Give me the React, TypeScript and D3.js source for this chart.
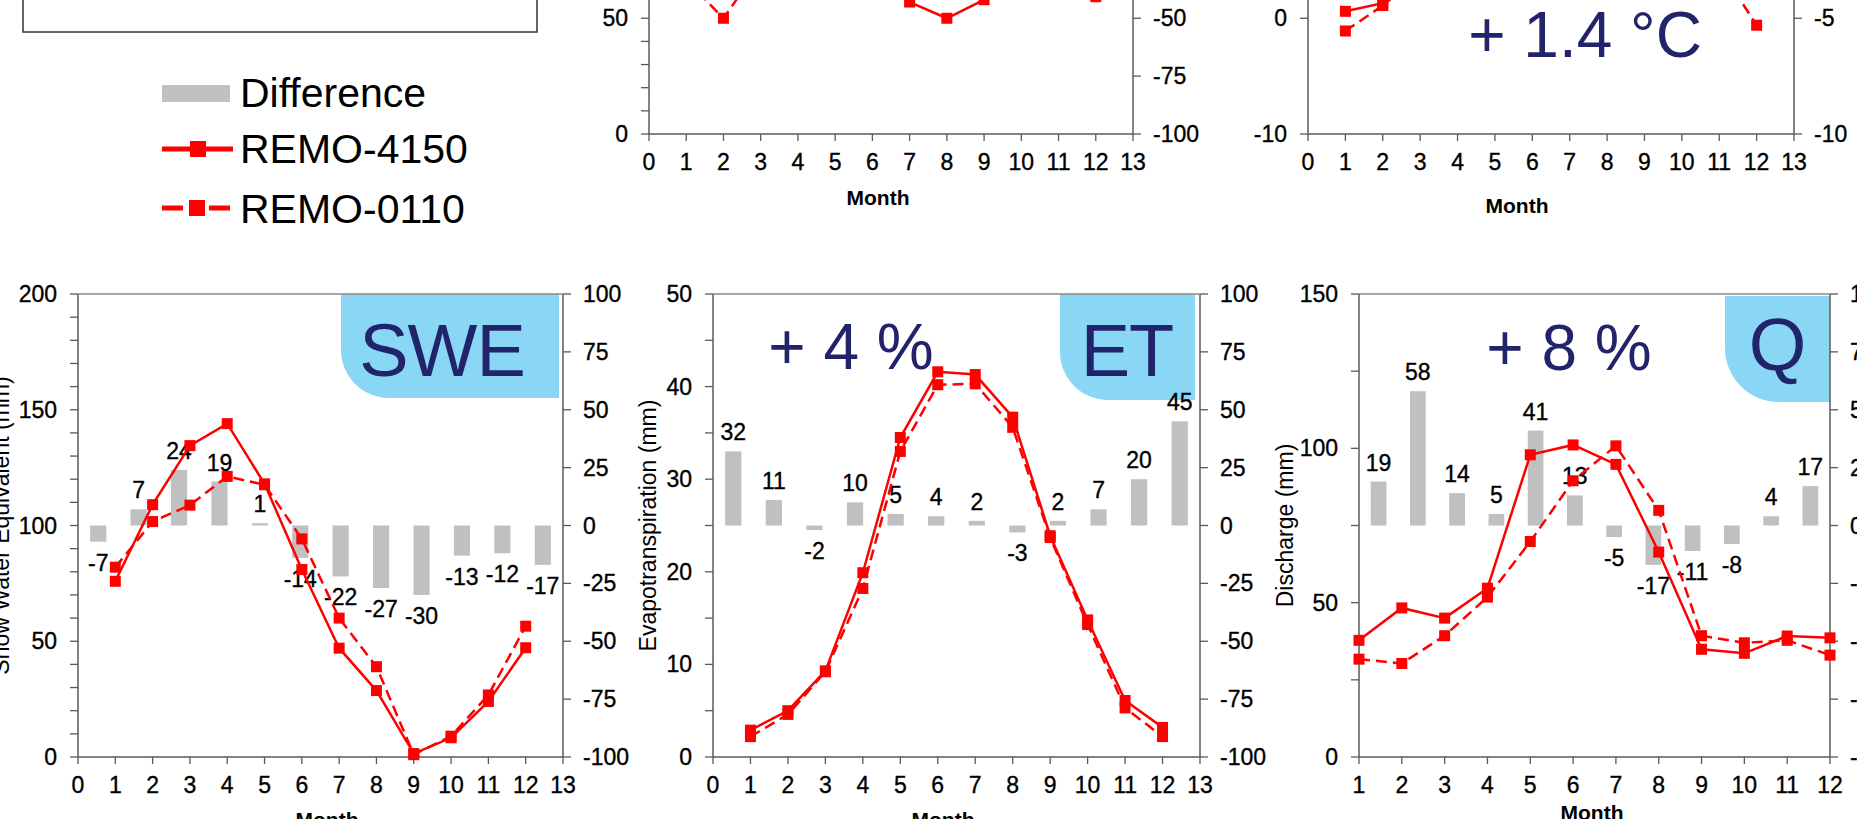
import React from "react";
import * as d3 from "d3";

const W = 1857;
const H = 819;
const FONT = "'Liberation Sans', Arial, Helvetica, sans-serif";
const RED = "#ff0000";
const NAVY = "#22246b";
const SKY = "#89d7f5";
const GREY = "#c0c0c0";
const AXIS = "#5a5a5a";

const months = [1, 2, 3, 4, 5, 6, 7, 8, 9, 10, 11, 12];
const ticks0to13 = [0, 1, 2, 3, 4, 5, 6, 7, 8, 9, 10, 11, 12, 13];
const legendLabels = ["Difference", "REMO-4150", "REMO-0110"];

// precipitation panel, only its lower edge is inside the picture
const precip4150 = [88, 80, 84, 92, 104, 96, 57, 50, 58, 90, 98, 95];
const precip0110 = [66.5, 50, 73, 88, 100, 92, 82, 78, 84, 92, 96, 59.3];

// temperature panel, also cut at the top
const temp4150 = [0.6, 1.3, 4.5, 8.5, 13, 16.5, 18.5, 18, 14, 9.5, 5.5, 2.6];
const temp0110 = [-1.1, 1.1, 3.8, 7.8, 12.2, 15.6, 17.4, 16.8, 12.8, 8.2, 4.4, -0.6];

// snow water equivalent (mm)
const swe4150 = [75.9, 109, 134.5, 144, 118, 81, 47, 28.7, 1.5, 8.3, 24, 47.2];
const swe0110 = [82, 101.7, 108.8, 121.2, 117.6, 94.2, 60, 39, 1, 9, 26.8, 56.5];
const sweDiff = [-7, 7, 24, 19, 1, -14, -22, -27, -30, -13, -12, -17];

// evapotranspiration (mm)
const et4150 = [2.9, 5.0, 9.3, 19.9, 34.5, 41.6, 41.3, 36.7, 23.9, 14.8, 6.1, 3.2];
const et0110 = [2.2, 4.6, 9.2, 18.2, 33.0, 40.2, 40.3, 35.6, 23.7, 14.3, 5.3, 2.2];
const etDiff = [32, 11, -2, 10, 5, 4, 2, -3, 2, 7, 20, 45];

// discharge (mm)
const q4150 = [37.8, 48.3, 45.0, 54.7, 97.9, 101.1, 94.8, 66.4, 34.9, 33.6, 39.2, 38.6];
const q0110 = [31.7, 30.3, 39.3, 51.8, 69.8, 89.5, 100.8, 79.9, 39.3, 37.0, 37.8, 33.0];
const qDiff = [19, 58, 14, 5, 41, 13, -5, -17, -11, -8, 4, 17];

const panels = [
  {
    key: "precip",
    left: 649, right: 1133, top: -329, bottom: 134,
    xDomain: [0, 13], xTicks: ticks0to13,
    yDomain: [0, 200], yMinor: 10, yStep: 50,
    y2Domain: [-100, 100], y2Minor: 25, y2Step: 25,
    a: precip4150, b: precip0110, diff: null,
    month: { x: 878, y: 205 },
  },
  {
    key: "temp",
    left: 1308, right: 1794, top: -329, bottom: 134,
    xDomain: [0, 13], xTicks: ticks0to13,
    yDomain: [-10, 30], yMinor: 10, yStep: 10,
    y2Domain: [-10, 10], y2Minor: 5, y2Step: 5,
    a: temp4150, b: temp0110, diff: null,
    month: { x: 1517, y: 213 },
    note: { text: "+ 1.4 °C", x: 1585, y: 57 },
  },
  {
    key: "swe",
    left: 78, right: 563, top: 294, bottom: 757,
    xDomain: [0, 13], xTicks: ticks0to13,
    yDomain: [0, 200], yMinor: 10, yStep: 50,
    y2Domain: [-100, 100], y2Minor: 25, y2Step: 25,
    a: swe4150, b: swe0110, diff: sweDiff,
    title: { text: "Snow Water Equivalent (mm)", x: 9 },
    month: { x: 327, y: 827 },
    tag: { text: "SWE", x0: 341, x1: 559, y0: 294, y1: 398, r: 48, tx: 442, ty: 376 },
  },
  {
    key: "et",
    left: 713, right: 1200, top: 294, bottom: 757,
    xDomain: [0, 13], xTicks: ticks0to13,
    yDomain: [0, 50], yMinor: 5, yStep: 10,
    y2Domain: [-100, 100], y2Minor: 25, y2Step: 25,
    a: et4150, b: et0110, diff: etDiff,
    title: { text: "Evapotranspiration (mm)", x: 656 },
    month: { x: 943, y: 827 },
    tag: { text: "ET", x0: 1060, x1: 1195, y0: 294, y1: 400, r: 48, tx: 1127, ty: 376 },
    note: { text: "+ 4 %", x: 851, y: 369 },
  },
  {
    key: "q",
    left: 1359, right: 1830, top: 294, bottom: 757,
    xDomain: [1, 12], xTicks: months,
    yDomain: [0, 150], yMinor: 25, yStep: 50,
    y2Domain: [-100, 100], y2Minor: 25, y2Step: 25,
    a: q4150, b: q0110, diff: qDiff,
    title: { text: "Discharge (mm)", x: 1293 },
    month: { x: 1592, y: 820 },
    tag: { text: "Q", x0: 1725, x1: 1830, y0: 296, y1: 402, r: 54, tx: 1777, ty: 370 },
    note: { text: "+ 8 %", x: 1569, y: 370 },
  },
];

const isStep = (v, step) => Math.abs(v / step - Math.round(v / step)) < 1e-6;
// labels that would sit wholly above the page are not drawn
const onPage = (py) => py > -8;

function Panel({ p }) {
  const x = d3.scaleLinear().domain(p.xDomain).range([p.left, p.right]);
  const y = d3.scaleLinear().domain(p.yDomain).range([p.bottom, p.top]);
  const y2 = d3.scaleLinear().domain(p.y2Domain).range([p.bottom, p.top]);
  const band = d3
    .scaleBand()
    .domain(months)
    .range([p.left, p.right])
    .paddingInner(0.6)
    .paddingOuter(0.3);
  const path = d3
    .line()
    .x((d, i) => x(months[i]))
    .y((d) => y(d));
  const yTicks = d3.range(p.yDomain[0], p.yDomain[1] + 1e-6, p.yMinor);
  const y2Ticks = d3.range(p.y2Domain[0], p.y2Domain[1] + 1e-6, p.y2Minor);
  const tag = p.tag;
  const label = { fontSize: 23, stroke: "#000", strokeWidth: 0.35 };

  return (
    <g>
      {tag && (
        <g>
          <path
            d={`M${tag.x0},${tag.y0}H${tag.x1}V${tag.y1}H${tag.x0 + tag.r}A${tag.r},${tag.r} 0 0 1 ${tag.x0},${tag.y1 - tag.r}Z`}
            fill={SKY}
          />
          <text x={tag.tx} y={tag.ty} fontSize={74} fill={NAVY} textAnchor="middle" letterSpacing={-1}>
            {tag.text}
          </text>
        </g>
      )}
      {p.diff &&
        p.diff.map((v, i) => (
          <rect
            key={`bar${i}`}
            x={band(months[i])}
            width={band.bandwidth()}
            y={Math.min(y2(v), y2(0))}
            height={Math.abs(y2(v) - y2(0))}
            fill={GREY}
          />
        ))}
      {p.diff &&
        p.diff.map((v, i) => (
          <text
            key={`bl${i}`}
            x={band(months[i]) + band.bandwidth() / 2}
            y={v >= 0 ? y2(v) - 11 : y2(v) + 29}
            textAnchor="middle"
            {...label}
          >
            {v}
          </text>
        ))}
      {/* frame */}
      <line x1={p.left} x2={p.left} y1={p.top} y2={p.bottom} stroke={AXIS} strokeWidth={1.5} />
      <line x1={p.right} x2={p.right} y1={p.top} y2={p.bottom} stroke={AXIS} strokeWidth={1.5} />
      <line x1={p.left} x2={p.right} y1={p.top} y2={p.top} stroke="#8a8a8a" strokeWidth={1.5} />
      <line x1={p.left} x2={p.right} y1={p.bottom} y2={p.bottom} stroke={AXIS} strokeWidth={1.5} />
      {yTicks.map((t) => (
        <g key={`y${t}`}>
          <line x1={p.left - 8} x2={p.left} y1={y(t)} y2={y(t)} stroke={AXIS} strokeWidth={1.3} />
          {isStep(t, p.yStep) && onPage(y(t)) && (
            <text x={p.left - 21} y={y(t) + 8} textAnchor="end" {...label}>
              {t}
            </text>
          )}
        </g>
      ))}
      {y2Ticks.map((t) => (
        <g key={`y2${t}`}>
          <line x1={p.right} x2={p.right + 8} y1={y2(t)} y2={y2(t)} stroke={AXIS} strokeWidth={1.3} />
          {isStep(t, p.y2Step) && onPage(y2(t)) && (
            <text x={p.right + 20} y={y2(t) + 8} {...label}>
              {t}
            </text>
          )}
        </g>
      ))}
      {p.xTicks.map((t) => (
        <g key={`x${t}`}>
          <line x1={x(t)} x2={x(t)} y1={p.bottom} y2={p.bottom + 7} stroke={AXIS} strokeWidth={1.3} />
          <text x={x(t)} y={p.bottom + 36} textAnchor="middle" {...label}>
            {t}
          </text>
        </g>
      ))}
      <text x={p.month.x} y={p.month.y} fontSize={21} fontWeight="bold" textAnchor="middle">
        Month
      </text>
      {p.title && (
        <text
          transform={`translate(${p.title.x},${(p.top + p.bottom) / 2}) rotate(-90)`}
          fontSize={23}
          textAnchor="middle"
        >
          {p.title.text}
        </text>
      )}
      <path d={path(p.b)} fill="none" stroke={RED} strokeWidth={2.5} strokeDasharray="11,6" />
      <path d={path(p.a)} fill="none" stroke={RED} strokeWidth={2.5} />
      {[p.b, p.a].map((s, k) =>
        s.map((v, i) => (
          <rect key={`m${k}-${i}`} x={x(months[i]) - 5.5} y={y(v) - 5.5} width={11} height={11} fill={RED} />
        ))
      )}
      {p.note && (
        <text x={p.note.x} y={p.note.y} fontSize={64} fill={NAVY} textAnchor="middle">
          {p.note.text}
        </text>
      )}
    </g>
  );
}

function Legend() {
  return (
    <g>
      <rect x={23} y={-10} width={514} height={42} fill="none" stroke="#333" strokeWidth={1.5} />
      <rect x={162} y={85} width={68} height={17} fill={GREY} />
      <line x1={162} x2={233} y1={149} y2={149} stroke={RED} strokeWidth={5} />
      <rect x={190} y={141} width={16} height={16} fill={RED} />
      <line x1={162} x2={230} y1={208} y2={208} stroke={RED} strokeWidth={5} strokeDasharray="21,26,21" />
      <rect x={189} y={200} width={16} height={16} fill={RED} />
      {legendLabels.map((t, i) => (
        <text key={t} x={240} y={[107, 163, 223][i]} fontSize={41}>
          {t}
        </text>
      ))}
    </g>
  );
}

export default function App() {
  return (
    <svg
      width={W}
      height={H}
      viewBox={`0 0 ${W} ${H}`}
      style={{ position: "absolute", left: 0, top: 0, background: "#fff" }}
      fontFamily={FONT}
    >
      <rect width={W} height={H} fill="#fff" />
      <Legend />
      {panels.map((p) => (
        <Panel key={p.key} p={p} />
      ))}
    </svg>
  );
}
